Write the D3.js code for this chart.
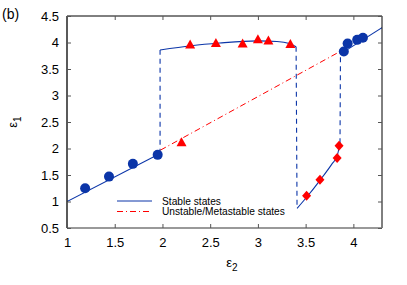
<!DOCTYPE html>
<html>
<head>
<meta charset="utf-8">
<script src="https://cdn.jsdelivr.net/npm/d3@7"></script>
<style>
  body { margin: 0; background: #fff; }
  svg text { font-family: "Liberation Sans", Arial, sans-serif; }
</style>
</head>
<body>
<div id="chart"></div>
<script>
// --- data ---
const xTicks = [1, 1.5, 2, 2.5, 3, 3.5, 4];
const yTicks = [0.5, 1, 1.5, 2, 2.5, 3, 3.5, 4, 4.5];

// stable branches (solid blue)
const stableLow = [[1.0, 1.0], [1.95, 1.88]];
const stableTop = [[1.975, 3.86], [2.3, 3.94], [2.6, 3.99], [3.0, 4.03], [3.2, 4.02], [3.33, 3.98], [3.4, 3.92]];
const stableRight = [[3.41, 0.87], [3.51, 1.08], [3.65, 1.4], [3.78, 1.72], [3.83, 1.86], [3.86, 2.1]];
const stableHigh = [[3.87, 3.79], [4.3, 4.28]];

// jumps (dashed blue)
const jumps = [
  [[1.975, 1.9], [1.975, 3.86]],
  [[3.4, 3.92], [3.41, 0.87]],
  [[3.86, 2.1], [3.865, 3.8]]
];

// unstable / metastable branch (red dash-dot)
const unstable = [[1.98, 1.97], [3.83, 3.8]];

// markers
const circles = [[1.19, 1.25], [1.44, 1.47], [1.69, 1.71], [1.95, 1.88],
                 [3.9, 3.83], [3.94, 3.98], [4.04, 4.05], [4.1, 4.09]];
const triangles = [[2.2, 2.12], [2.29, 3.96], [2.56, 3.99], [2.84, 3.98], [3.0, 4.06], [3.11, 4.04], [3.34, 3.97]];
const diamonds = [[3.51, 1.11], [3.65, 1.41], [3.83, 1.82], [3.85, 2.05]];

const legendItems = ["Stable states", "Unstable/Metastable states"];

const BLUE = "#0b35a8";
const RED = "#ff0000";

const width = 407, height = 285;
const margin = { left: 67, right: 25, top: 16, bottom: 57 };

const svg = d3.select("#chart").append("svg")
    .attr("width", width)
    .attr("height", height);

const x = d3.scaleLinear().domain([1, 4.3]).range([margin.left, width - margin.right]);
const y = d3.scaleLinear().domain([0.5, 4.5]).range([height - margin.bottom, margin.top]);

const line = d3.line().x(d => x(d[0])).y(d => y(d[1]));
const curve = d3.line().x(d => x(d[0])).y(d => y(d[1])).curve(d3.curveMonotoneX);

// clip to plot area
svg.append("clipPath").attr("id", "plot")
  .append("rect")
    .attr("x", x(1)).attr("y", y(4.5))
    .attr("width", x(4.3) - x(1)).attr("height", y(0.5) - y(4.5));

const g = svg.append("g").attr("clip-path", "url(#plot)");

// dashed jumps
g.selectAll(".jump")
  .data(jumps)
  .join("path")
    .attr("class", "jump")
    .attr("d", line)
    .attr("fill", "none")
    .attr("stroke", BLUE)
    .attr("stroke-width", 1.1)
    .attr("stroke-dasharray", "5,4");

// unstable line
g.append("path")
    .attr("d", line(unstable))
    .attr("fill", "none")
    .attr("stroke", RED)
    .attr("stroke-width", 1)
    .attr("stroke-dasharray", "6,3,1,3");

// stable lines
g.selectAll(".stable")
  .data([stableLow, stableTop, stableRight, stableHigh])
  .join("path")
    .attr("class", "stable")
    .attr("d", curve)
    .attr("fill", "none")
    .attr("stroke", BLUE)
    .attr("stroke-width", 1.1);

// markers
g.selectAll(".circ")
  .data(circles)
  .join("circle")
    .attr("class", "circ")
    .attr("cx", d => x(d[0]))
    .attr("cy", d => y(d[1]))
    .attr("r", 5)
    .attr("fill", BLUE);

g.selectAll(".tri")
  .data(triangles)
  .join("path")
    .attr("class", "tri")
    .attr("transform", d => `translate(${x(d[0])},${y(d[1])})`)
    .attr("d", "M0,-5L5,4L-5,4Z")
    .attr("fill", RED);

g.selectAll(".dia")
  .data(diamonds)
  .join("path")
    .attr("class", "dia")
    .attr("transform", d => `translate(${x(d[0])},${y(d[1])})`)
    .attr("d", "M0,-5L4.5,0L0,5L-4.5,0Z")
    .attr("fill", RED);

// frame
const x0 = x(1), x1 = x(4.3), y0 = y(0.5), y1 = y(4.5);
svg.append("line").attr("x1", x0).attr("x2", x1).attr("y1", y1).attr("y2", y1).attr("stroke", "#000");
svg.append("line").attr("x1", x1).attr("x2", x1).attr("y1", y1).attr("y2", y0).attr("stroke", "#000");
svg.append("line").attr("x1", x0).attr("x2", x0).attr("y1", y1).attr("y2", y0).attr("stroke", "#000").attr("stroke-width", 1.3);
svg.append("line").attr("x1", x0).attr("x2", x1).attr("y1", y0).attr("y2", y0).attr("stroke", "#777").attr("stroke-width", 1.5);

// axes with inward ticks
const fmt = d => d3.format("")(d);
const xAxis = svg.append("g")
    .attr("transform", `translate(0,${y0})`)
    .call(d3.axisBottom(x).tickValues(xTicks).tickSize(-4).tickPadding(10).tickFormat(fmt));
const xAxisTop = svg.append("g")
    .attr("transform", `translate(0,${y1})`)
    .call(d3.axisTop(x).tickValues(xTicks).tickSize(-4).tickFormat(""));
const yAxis = svg.append("g")
    .attr("transform", `translate(${x0},0)`)
    .call(d3.axisLeft(y).tickValues(yTicks).tickSize(-4).tickPadding(8).tickFormat(fmt));
const yAxisRight = svg.append("g")
    .attr("transform", `translate(${x1},0)`)
    .call(d3.axisRight(y).tickValues(yTicks).tickSize(-4).tickFormat(""));

[xAxis, xAxisTop, yAxis, yAxisRight].forEach(a => {
  a.select(".domain").remove();
  a.selectAll(".tick line").attr("stroke", "#555");
  a.selectAll(".tick text").attr("font-size", 13).attr("fill", "#000")
    .style("font-family", "Liberation Sans, Arial, sans-serif");
});

// axis labels
const xl = svg.append("text")
    .attr("x", 232).attr("y", 267)
    .attr("font-size", 13)
    .attr("text-anchor", "middle");
xl.append("tspan").text("ε");
xl.append("tspan").attr("font-size", 10).attr("dy", 4).text("2");

const yl = svg.append("text")
    .attr("transform", "translate(17,122) rotate(-90)")
    .attr("font-size", 13)
    .attr("text-anchor", "middle");
yl.append("tspan").text("ε");
yl.append("tspan").attr("font-size", 10).attr("dy", 4).text("1");

svg.append("text")
    .attr("x", 2).attr("y", 19)
    .attr("font-size", 14)
    .text("(b)");

// legend
const legend = svg.append("g");
legendItems.forEach((name, i) => {
  const ly = 201 + i * 10.5;
  legend.append("line")
      .attr("x1", 117).attr("x2", 152)
      .attr("y1", ly).attr("y2", ly)
      .attr("stroke", i === 0 ? BLUE : RED)
      .attr("stroke-width", 1)
      .attr("stroke-dasharray", i === 0 ? null : "6,3,1,3");
  legend.append("text")
      .attr("x", 162).attr("y", ly + 3.5)
      .attr("font-size", 10.2)
      .text(name);
});
</script>
</body>
</html>
